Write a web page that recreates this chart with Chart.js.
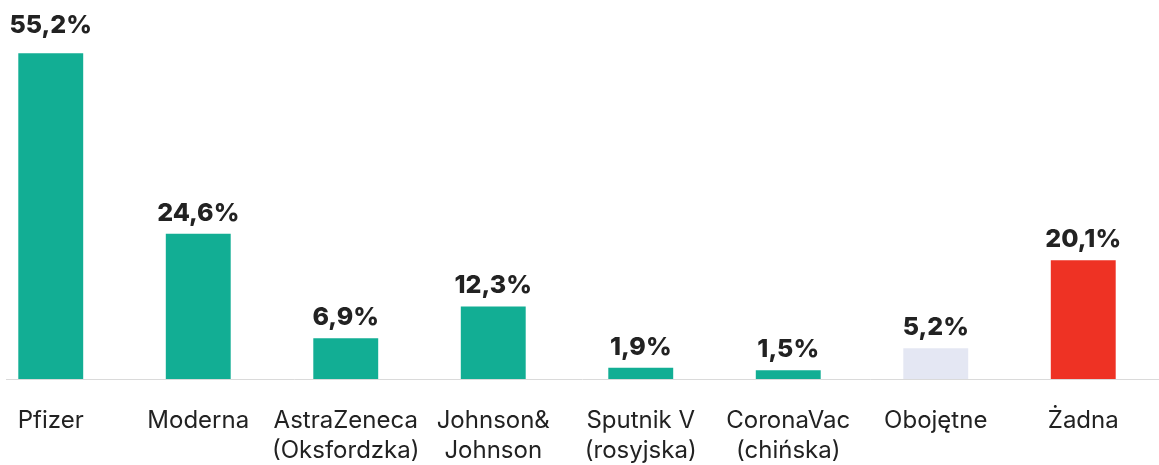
<!DOCTYPE html>
<html>
<head>
<meta charset="utf-8">
<script src="https://cdn.jsdelivr.net/npm/chart.js@4.4.1/dist/chart.umd.min.js"></script>
<style>
  html, body { margin: 0; padding: 0; background: #fff; overflow: hidden; }
  #wrap { position: absolute; left: -23px; top: 0; width: 1182px; height: 465px; }
</style>
</head>
<body>
<div id="wrap"><canvas id="c" width="1182" height="465"></canvas></div>
<script>
// Którą szczepionkę wybrałbyś — odsetek odpowiedzi
const categories = [
  ["Pfizer"], ["Moderna"], ["AstraZeneca", "(Oksfordzka)"], ["Johnson&", "Johnson"],
  ["Sputnik V", "(rosyjska)"], ["CoronaVac", "(chińska)"], ["Obojętne"], ["Żadna"]
];
const values = [55.2, 24.6, 6.9, 12.3, 1.9, 1.5, 5.2, 20.1];
const barColors = ["#12ae94", "#12ae94", "#12ae94", "#12ae94", "#12ae94", "#12ae94", "#e4e7f3", "#ee3224"];

const fmt = (v) => v.toFixed(1).replace(".", ",") + "%";

// linia bazowa od lewej krawędzi strony do prawej
const baseline = {
  id: "baseline",
  beforeDatasetsDraw(chart) {
    const { ctx, scales } = chart;
    const y = Math.round(scales.y.getPixelForValue(0)) + 0.5;
    ctx.save();
    ctx.strokeStyle = "#dadada";
    ctx.lineWidth = 1;
    ctx.beginPath();
    ctx.moveTo(29, y);
    ctx.lineTo(chart.width, y);
    ctx.stroke();
    ctx.restore();
  },
};

// etykiety wartości nad słupkami (najwyższy ma trochę większy odstęp)
const valueLabels = {
  id: "valueLabels",
  afterDatasetsDraw(chart) {
    const { ctx } = chart;
    const meta = chart.getDatasetMeta(0);
    const top = values.indexOf(Math.max(...values));
    ctx.save();
    ctx.font = "800 25px Inter";
    ctx.fillStyle = "#222";
    ctx.textAlign = "center";
    ctx.textBaseline = "alphabetic";
    meta.data.forEach((bar, i) => {
      const y = bar.y - (i === top ? 20 : 13);
      ctx.fillText(fmt(values[i]), bar.x, y);
    });
    ctx.restore();
  },
};

new Chart(document.getElementById("c"), {
  type: "bar",
  data: {
    labels: categories,
    datasets: [{ data: values, backgroundColor: barColors, borderWidth: 0,
      barPercentage: 0.44, categoryPercentage: 1 }],
  },
  options: {
    responsive: false,
    animation: false,
    events: [],
    layout: { padding: { left: 0, right: 2, top: 0, bottom: 0 } },
    plugins: { legend: { display: false }, tooltip: { enabled: false } },
    scales: {
      x: {
        grid: { display: false, drawTicks: false },
        border: { display: false },
        ticks: { color: "#222", font: { family: "Inter", size: 24, lineHeight: "30px" }, padding: 27, maxRotation: 0, autoSkip: false },
        afterFit: (s) => { s.height = 86; },
      },
      y: { display: false, min: 0, max: 64.2 },
    },
  },
  plugins: [baseline, valueLabels],
});
</script>
</body>
</html>
